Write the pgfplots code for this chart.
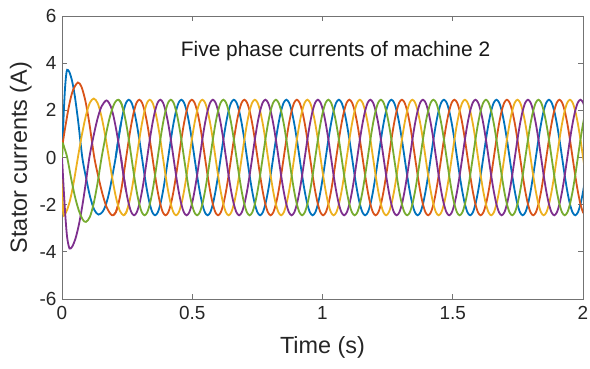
\documentclass[border=0pt]{standalone}
\usepackage{pgfplots}
\pgfplotsset{compat=1.18}
\usepackage{pgfplotstable}
\usepackage{fontspec}
\setmainfont{Liberation Sans}
\definecolor{mblue}{rgb}{0,0.447,0.741}
\definecolor{mred}{rgb}{0.85,0.325,0.098}
\definecolor{myellow}{rgb}{0.929,0.694,0.125}
\definecolor{mpurple}{rgb}{0.494,0.184,0.556}
\definecolor{mgreen}{rgb}{0.466,0.674,0.188}
\pgfplotstableread{
t a b c d e
0.1557 -2.45 -0.76 1.98 1.98 -0.76
0.1658 -2.33 -1.44 1.44 2.33 0
0.1759 -1.98 -1.98 0.76 2.45 0.76
0.1859 -1.44 -2.33 0 2.33 1.44
0.1960 -0.76 -2.45 -0.76 1.98 1.98
0.2061 0 -2.33 -1.44 1.44 2.33
0.2162 0.76 -1.98 -1.98 0.76 2.45
0.2263 1.44 -1.44 -2.33 0 2.33
0.2363 1.98 -0.76 -2.45 -0.76 1.98
0.2464 2.33 0 -2.33 -1.44 1.44
0.2565 2.45 0.76 -1.98 -1.98 0.76
0.2666 2.33 1.44 -1.44 -2.33 0
0.2767 1.98 1.98 -0.76 -2.45 -0.76
0.2867 1.44 2.33 0 -2.33 -1.44
0.2968 0.76 2.45 0.76 -1.98 -1.98
0.3069 0 2.33 1.44 -1.44 -2.33
0.3170 -0.76 1.98 1.98 -0.76 -2.45
0.3271 -1.44 1.44 2.33 0 -2.33
0.3371 -1.98 0.76 2.45 0.76 -1.98
0.3472 -2.33 0 2.33 1.44 -1.44
0.3573 -2.45 -0.76 1.98 1.98 -0.76
0.3674 -2.33 -1.44 1.44 2.33 0
0.3775 -1.98 -1.98 0.76 2.45 0.76
0.3875 -1.44 -2.33 0 2.33 1.44
0.3976 -0.76 -2.45 -0.76 1.98 1.98
0.4077 0 -2.33 -1.44 1.44 2.33
0.4178 0.76 -1.98 -1.98 0.76 2.45
0.4279 1.44 -1.44 -2.33 0 2.33
0.4379 1.98 -0.76 -2.45 -0.76 1.98
0.4480 2.33 0 -2.33 -1.44 1.44
0.4581 2.45 0.76 -1.98 -1.98 0.76
0.4682 2.33 1.44 -1.44 -2.33 0
0.4783 1.98 1.98 -0.76 -2.45 -0.76
0.4883 1.44 2.33 0 -2.33 -1.44
0.4984 0.76 2.45 0.76 -1.98 -1.98
0.5085 0 2.33 1.44 -1.44 -2.33
0.5186 -0.76 1.98 1.98 -0.76 -2.45
0.5287 -1.44 1.44 2.33 0 -2.33
0.5387 -1.98 0.76 2.45 0.76 -1.98
0.5488 -2.33 0 2.33 1.44 -1.44
0.5589 -2.45 -0.76 1.98 1.98 -0.76
0.5690 -2.33 -1.44 1.44 2.33 0
0.5791 -1.98 -1.98 0.76 2.45 0.76
0.5891 -1.44 -2.33 0 2.33 1.44
0.5992 -0.76 -2.45 -0.76 1.98 1.98
0.6093 0 -2.33 -1.44 1.44 2.33
0.6194 0.76 -1.98 -1.98 0.76 2.45
0.6295 1.44 -1.44 -2.33 0 2.33
0.6395 1.98 -0.76 -2.45 -0.76 1.98
0.6496 2.33 0 -2.33 -1.44 1.44
0.6597 2.45 0.76 -1.98 -1.98 0.76
0.6698 2.33 1.44 -1.44 -2.33 0
0.6799 1.98 1.98 -0.76 -2.45 -0.76
0.6899 1.44 2.33 0 -2.33 -1.44
0.7000 0.76 2.45 0.76 -1.98 -1.98
0.7101 0 2.33 1.44 -1.44 -2.33
0.7202 -0.76 1.98 1.98 -0.76 -2.45
0.7303 -1.44 1.44 2.33 0 -2.33
0.7403 -1.98 0.76 2.45 0.76 -1.98
0.7504 -2.33 0 2.33 1.44 -1.44
0.7605 -2.45 -0.76 1.98 1.98 -0.76
0.7706 -2.33 -1.44 1.44 2.33 0
0.7807 -1.98 -1.98 0.76 2.45 0.76
0.7907 -1.44 -2.33 0 2.33 1.44
0.8008 -0.76 -2.45 -0.76 1.98 1.98
0.8109 0 -2.33 -1.44 1.44 2.33
0.8210 0.76 -1.98 -1.98 0.76 2.45
0.8311 1.44 -1.44 -2.33 0 2.33
0.8411 1.98 -0.76 -2.45 -0.76 1.98
0.8512 2.33 0 -2.33 -1.44 1.44
0.8613 2.45 0.76 -1.98 -1.98 0.76
0.8714 2.33 1.44 -1.44 -2.33 0
0.8815 1.98 1.98 -0.76 -2.45 -0.76
0.8915 1.44 2.33 0 -2.33 -1.44
0.9016 0.76 2.45 0.76 -1.98 -1.98
0.9117 0 2.33 1.44 -1.44 -2.33
0.9218 -0.76 1.98 1.98 -0.76 -2.45
0.9319 -1.44 1.44 2.33 0 -2.33
0.9419 -1.98 0.76 2.45 0.76 -1.98
0.9520 -2.33 0 2.33 1.44 -1.44
0.9621 -2.45 -0.76 1.98 1.98 -0.76
0.9722 -2.33 -1.44 1.44 2.33 0
0.9823 -1.98 -1.98 0.76 2.45 0.76
0.9923 -1.44 -2.33 0 2.33 1.44
1.0024 -0.76 -2.45 -0.76 1.98 1.98
1.0125 0 -2.33 -1.44 1.44 2.33
1.0226 0.76 -1.98 -1.98 0.76 2.45
1.0327 1.44 -1.44 -2.33 0 2.33
1.0427 1.98 -0.76 -2.45 -0.76 1.98
1.0528 2.33 0 -2.33 -1.44 1.44
1.0629 2.45 0.76 -1.98 -1.98 0.76
1.0730 2.33 1.44 -1.44 -2.33 0
1.0831 1.98 1.98 -0.76 -2.45 -0.76
1.0931 1.44 2.33 0 -2.33 -1.44
1.1032 0.76 2.45 0.76 -1.98 -1.98
1.1133 0 2.33 1.44 -1.44 -2.33
1.1234 -0.76 1.98 1.98 -0.76 -2.45
1.1335 -1.44 1.44 2.33 0 -2.33
1.1435 -1.98 0.76 2.45 0.76 -1.98
1.1536 -2.33 0 2.33 1.44 -1.44
1.1637 -2.45 -0.76 1.98 1.98 -0.76
1.1738 -2.33 -1.44 1.44 2.33 0
1.1839 -1.98 -1.98 0.76 2.45 0.76
1.1939 -1.44 -2.33 0 2.33 1.44
1.2040 -0.76 -2.45 -0.76 1.98 1.98
1.2141 0 -2.33 -1.44 1.44 2.33
1.2242 0.76 -1.98 -1.98 0.76 2.45
1.2343 1.44 -1.44 -2.33 0 2.33
1.2443 1.98 -0.76 -2.45 -0.76 1.98
1.2544 2.33 0 -2.33 -1.44 1.44
1.2645 2.45 0.76 -1.98 -1.98 0.76
1.2746 2.33 1.44 -1.44 -2.33 0
1.2847 1.98 1.98 -0.76 -2.45 -0.76
1.2947 1.44 2.33 0 -2.33 -1.44
1.3048 0.76 2.45 0.76 -1.98 -1.98
1.3149 0 2.33 1.44 -1.44 -2.33
1.3250 -0.76 1.98 1.98 -0.76 -2.45
1.3351 -1.44 1.44 2.33 0 -2.33
1.3451 -1.98 0.76 2.45 0.76 -1.98
1.3552 -2.33 0 2.33 1.44 -1.44
1.3653 -2.45 -0.76 1.98 1.98 -0.76
1.3754 -2.33 -1.44 1.44 2.33 0
1.3855 -1.98 -1.98 0.76 2.45 0.76
1.3955 -1.44 -2.33 0 2.33 1.44
1.4056 -0.76 -2.45 -0.76 1.98 1.98
1.4157 0 -2.33 -1.44 1.44 2.33
1.4258 0.76 -1.98 -1.98 0.76 2.45
1.4359 1.44 -1.44 -2.33 0 2.33
1.4459 1.98 -0.76 -2.45 -0.76 1.98
1.4560 2.33 0 -2.33 -1.44 1.44
1.4661 2.45 0.76 -1.98 -1.98 0.76
1.4762 2.33 1.44 -1.44 -2.33 0
1.4863 1.98 1.98 -0.76 -2.45 -0.76
1.4963 1.44 2.33 0 -2.33 -1.44
1.5064 0.76 2.45 0.76 -1.98 -1.98
1.5165 0 2.33 1.44 -1.44 -2.33
1.5266 -0.76 1.98 1.98 -0.76 -2.45
1.5367 -1.44 1.44 2.33 0 -2.33
1.5467 -1.98 0.76 2.45 0.76 -1.98
1.5568 -2.33 0 2.33 1.44 -1.44
1.5669 -2.45 -0.76 1.98 1.98 -0.76
1.5770 -2.33 -1.44 1.44 2.33 0
1.5871 -1.98 -1.98 0.76 2.45 0.76
1.5971 -1.44 -2.33 0 2.33 1.44
1.6072 -0.76 -2.45 -0.76 1.98 1.98
1.6173 0 -2.33 -1.44 1.44 2.33
1.6274 0.76 -1.98 -1.98 0.76 2.45
1.6375 1.44 -1.44 -2.33 0 2.33
1.6475 1.98 -0.76 -2.45 -0.76 1.98
1.6576 2.33 0 -2.33 -1.44 1.44
1.6677 2.45 0.76 -1.98 -1.98 0.76
1.6778 2.33 1.44 -1.44 -2.33 0
1.6879 1.98 1.98 -0.76 -2.45 -0.76
1.6979 1.44 2.33 0 -2.33 -1.44
1.7080 0.76 2.45 0.76 -1.98 -1.98
1.7181 0 2.33 1.44 -1.44 -2.33
1.7282 -0.76 1.98 1.98 -0.76 -2.45
1.7383 -1.44 1.44 2.33 0 -2.33
1.7483 -1.98 0.76 2.45 0.76 -1.98
1.7584 -2.33 0 2.33 1.44 -1.44
1.7685 -2.45 -0.76 1.98 1.98 -0.76
1.7786 -2.33 -1.44 1.44 2.33 0
1.7887 -1.98 -1.98 0.76 2.45 0.76
1.7987 -1.44 -2.33 0 2.33 1.44
1.8088 -0.76 -2.45 -0.76 1.98 1.98
1.8189 0 -2.33 -1.44 1.44 2.33
1.8290 0.76 -1.98 -1.98 0.76 2.45
1.8391 1.44 -1.44 -2.33 0 2.33
1.8491 1.98 -0.76 -2.45 -0.76 1.98
1.8592 2.33 0 -2.33 -1.44 1.44
1.8693 2.45 0.76 -1.98 -1.98 0.76
1.8794 2.33 1.44 -1.44 -2.33 0
1.8895 1.98 1.98 -0.76 -2.45 -0.76
1.8995 1.44 2.33 0 -2.33 -1.44
1.9096 0.76 2.45 0.76 -1.98 -1.98
1.9197 0 2.33 1.44 -1.44 -2.33
1.9298 -0.76 1.98 1.98 -0.76 -2.45
1.9399 -1.44 1.44 2.33 0 -2.33
1.9499 -1.98 0.76 2.45 0.76 -1.98
1.9600 -2.33 0 2.33 1.44 -1.44
1.9701 -2.45 -0.76 1.98 1.98 -0.76
1.9802 -2.33 -1.44 1.44 2.33 0
1.9903 -1.98 -1.98 0.76 2.45 0.76
2.0003 -1.44 -2.33 0 2.33 1.44
2.0104 -0.76 -2.45 -0.76 1.98 1.98
}\steady

\begin{document}
\begin{tikzpicture}
\useasboundingbox (0,0) rectangle (590bp,369bp);
\begin{axis}[
  at={(62bp,70bp)}, anchor=south west,
  scale only axis, width=521bp, height=283bp,
  xmin=0, xmax=2, ymin=-6, ymax=6,
  xtick={0,0.5,1,1.5,2}, xticklabels={0,0.5,1,1.5,2},
  ytick={-6,-4,-2,0,2,4,6}, yticklabels={-6,-4,-2,0,2,4,6},
  tick align=inside, major tick length=5bp,
  axis line style={black!55, line width=0.8bp},
  every tick/.style={black!55, line width=0.8bp},
  tick label style={font=\fontsize{19}{19}\selectfont, text=black!85},
  xticklabel style={yshift=-4bp},
  yticklabel style={xshift=-2bp},
  xlabel={Time (s)}, ylabel={Stator currents (A)},
  label style={font=\fontsize{23.5}{23.5}\selectfont, text=black!85},
  x label style={at={(axis description cs:0.5,-0.17)}, anchor=center},
  y label style={at={(axis description cs:-0.079,0.5)}, anchor=center},
  every axis plot/.append style={line width=1.8bp, smooth},
]
% blue
\addplot[mblue] coordinates {(0,0) (0.004,1.15) (0.008,2.2) (0.012,3.0) (0.016,3.5) (0.0198,3.72) (0.028,3.63) (0.038,3.28) (0.049,2.62) (0.062,1.54) (0.078,0) (0.093,-0.90) (0.108,-1.67) (0.124,-2.22) (0.140,-2.42) (0.1557,-2.30) (0.1658,-2.08) (0.1759,-1.72) (0.1859,-1.22) (0.1960,-0.62) (0.2061,0) (0.2162,0.76) (0.2263,1.44)};
\addplot[mblue, restrict x to domain=0.205:2.1] table[x=t,y=a]{\steady};
% red
\addplot[mred] coordinates {(0,0) (0.003,0.6) (0.015,1.45) (0.028,2.25) (0.042,2.85) (0.061,3.18) (0.075,2.99) (0.090,2.39) (0.105,1.45) (0.124,0) (0.140,-0.84) (0.155,-1.53) (0.170,-2.07) (0.1859,-2.39) (0.1960,-2.45) (0.2061,-2.33) (0.2162,-1.98)};
\addplot[mred, restrict x to domain=0.195:2.1] table[x=t,y=b]{\steady};
% yellow
\addplot[myellow] coordinates {(0,0) (0.002,-1.5) (0.005,-2.38) (0.010,-2.42) (0.020,-2.21) (0.032,-1.76) (0.046,-0.99) (0.061,0) (0.076,0.94) (0.092,1.79) (0.107,2.32) (0.122,2.5) (0.137,2.3) (0.152,1.72) (0.166,0.92) (0.180,0) (0.194,-0.94) (0.208,-1.73) (0.222,-2.26) (0.2363,-2.45) (0.2464,-2.33) (0.2565,-1.98)};
\addplot[myellow, restrict x to domain=0.236:2.1] table[x=t,y=c]{\steady};
% purple
\addplot[mpurple] coordinates {(0,0) (0.004,-0.83) (0.009,-1.81) (0.014,-2.65) (0.020,-3.41) (0.029,-3.86) (0.040,-3.76) (0.052,-3.43) (0.065,-2.84) (0.078,-2.05) (0.091,-1.10) (0.105,0) (0.120,0.85) (0.136,1.63) (0.152,2.17) (0.171,2.42) (0.1859,2.2) (0.1960,1.83) (0.2061,1.3) (0.2162,0.67) (0.2263,0) (0.2363,-0.76) (0.2464,-1.44)};
\addplot[mpurple, restrict x to domain=0.226:2.1] table[x=t,y=d]{\steady};
% green
\addplot[mgreen] coordinates {(0,0) (0.002,0.6) (0.008,0.45) (0.020,0) (0.035,-0.88) (0.050,-1.67) (0.065,-2.26) (0.080,-2.64) (0.092,-2.73) (0.107,-2.52) (0.122,-1.93) (0.137,-1.05) (0.152,0) (0.167,0.88) (0.182,1.65) (0.1960,2.16) (0.2061,2.38) (0.2162,2.45) (0.2263,2.33) (0.2363,1.98)};
\addplot[mgreen, restrict x to domain=0.215:2.1] table[x=t,y=e]{\steady};
\node[font=\fontsize{21}{21}\selectfont, text=black!90, anchor=base] at (axis cs:1.05,4.27) {Five phase currents of machine 2};
\end{axis}
\end{tikzpicture}
\end{document}
